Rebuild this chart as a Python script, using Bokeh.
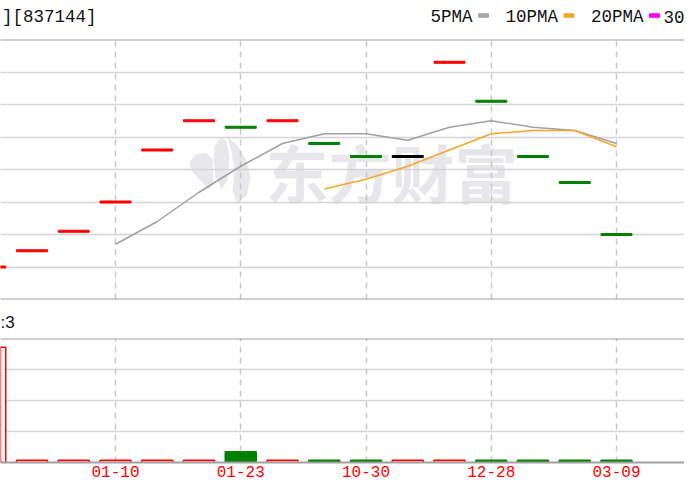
from bokeh.plotting import figure
from bokeh.models import Range1d, FixedTicker, Grid, Span, ColumnDataSource
from bokeh.layouts import column
from bokeh.embed import file_html
from bokeh.resources import INLINE
from bokeh.core.properties import value

# ---------------- data ----------------
stock_code = "837144"
header_text = "][" + stock_code + "]"
tick_idx = [0, 3, 6, 9, 12, 15]
tick_labels = ["12-13", "01-10", "01-23", "10-30", "12-28", "03-09"]
close = [3.10, 3.15, 3.21, 3.30, 3.46, 3.55, 3.53, 3.55, 3.48, 3.44, 3.44, 3.73, 3.61, 3.44, 3.36, 3.20]
prev_close = 3.07
ma5_start = 3
ma5 = [3.17, 3.24, 3.33, 3.41, 3.48, 3.51, 3.51, 3.49, 3.53, 3.55, 3.53, 3.52, 3.48]
ma10_start = 8
ma10 = [3.34, 3.37, 3.41, 3.46, 3.51, 3.52, 3.52, 3.47]
volume = [3.72, 0.07, 0.07, 0.07, 0.07, 0.07, 0.35, 0.07, 0.07, 0.07, 0.07, 0.07, 0.07, 0.07, 0.07, 0.07]
vol_up = [1, 1, 1, 1, 1, 1, 0, 1, 0, 0, 1, 1, 0, 0, 0, 0]
vol_header = ":3"
legend_names = ["5PMA", "10PMA", "20PMA"]
legend_colors = ["#a8a8a8", "#f5a623", "#ff00ff"]
legend_more = "30"
watermark = "东方财富"

# ---------------- styles / layout ----------------
W = 684
RED, GREEN, BLACK = "#ff0000", "#008000", "#000000"
BORDER = "#a0a0a0"
GRID = "#d4d4d4"
DASH = "#c8c8c8"
MONO = value("Liberation Mono")
STEP = 41.75          # pixels per candle
X0 = 10.25 / STEP     # left edge of the frame, in candle index
X1 = X0 + W / STEP
P0, P1 = 3.00, 3.80   # price range
V1 = 4.0              # volume range

xr = Range1d(X0, X1)


def base(height, xrange, yrange, mbt=0, mbb=0):
    p = figure(width=W, height=height, x_range=xrange, y_range=yrange,
               toolbar_location=None, output_backend="svg",
               x_axis_location=None, y_axis_location=None,
               min_border_left=0, min_border_right=0,
               min_border_top=mbt, min_border_bottom=mbb,
               background_fill_color="white", border_fill_color="white")
    p.outline_line_color = None
    p.xgrid.visible = False
    p.ygrid.visible = False
    return p


# ---------------- header ----------------
HA = 38
ph = base(HA, Range1d(0, W), Range1d(0, HA))
ph.text(x=[1.5], y=[HA - 16], text=[header_text], text_font=MONO, text_font_size="17.5px",
        text_color="#111111", text_baseline="middle", text_align="left")
cw = 10.5
lx = 430.0
for name, col in zip(legend_names, legend_colors):
    ph.text(x=[lx], y=[HA - 16], text=[name], text_font=MONO, text_font_size="17.5px",
            text_color="#111111", text_baseline="middle", text_align="left")
    sx = lx + len(name) * cw + 11
    ph.rect(x=[sx], y=[HA - 15], width=10, height=3.5, color=col)
    lx = sx + 22.0
ph.text(x=[W], y=[HA - 16], text=[legend_more], text_font=MONO, text_font_size="17.5px",
        text_color="#111111", text_baseline="middle", text_align="right")

# ---------------- price panel ----------------
pp = base(262, xr, Range1d(P0, P1), mbt=1, mbb=1)
pp.add_layout(Grid(dimension=1, ticker=FixedTicker(ticks=[3.1, 3.2, 3.3, 3.4, 3.5, 3.6, 3.7]),
                   grid_line_color=GRID, grid_line_width=1.5))
pp.add_layout(Grid(dimension=0, ticker=FixedTicker(ticks=tick_idx),
                   grid_line_color=DASH, grid_line_width=1.5, grid_line_dash="6 5"))


def rx(px):
    return (px + 10.25) / STEP


def ry(py):
    return P0 + (299 - py) / 325.0


# watermark logo + text
leaves = [
    [(189, 162), (195, 154), (205, 152), (212, 158), (213, 184), (208, 189), (199, 179), (191, 170)],
    [(214, 146), (220, 137), (226, 141), (229, 156), (227, 180), (221, 189), (215, 176), (213, 160)],
    [(227, 137), (237, 145), (246, 160), (250, 178), (246, 195), (237, 203), (232, 190), (234, 170), (231, 151)],
]
wm = pp.patches(xs=[[rx(a) for a, b in lf] for lf in leaves], ys=[[ry(b) for a, b in lf] for lf in leaves],
                fill_color="#e8e8ec", line_color=None)
wm.level = "image"
wt = pp.text(x=[rx(391)], y=[ry(170)], text=[watermark], text_font=value("Noto Sans CJK SC"),
             text_font_style="bold", text_font_size="63px", text_color="#e6e6eb",
             text_align="center", text_baseline="middle")
wt.level = "image"

idx = list(range(len(close)))
prev = [prev_close] + close[:-1]
ccol = [RED if c > p else (GREEN if c < p else BLACK) for c, p in zip(close, prev)]
pp.line(x=list(range(ma5_start, ma5_start + len(ma5))), y=ma5, line_color="#a0a0a0", line_width=1.5)
pp.line(x=list(range(ma10_start, ma10_start + len(ma10))), y=ma10, line_color="#f5a623", line_width=1.5)
pp.rect(x=idx, y=close, width=0.742, height=2, height_units="screen", color=ccol)
pp.add_layout(Span(location=P1, dimension="width", line_color=BORDER, line_width=2))
pp.add_layout(Span(location=P0, dimension="width", line_color=BORDER, line_width=2))

# ---------------- volume header strip ----------------
HC = 37
pc = base(HC, Range1d(0, W), Range1d(0, HC))
pc.text(x=[0], y=[HC - 22], text=[vol_header], text_font=value("Liberation Sans"),
        text_font_size="17px", text_color="#111111", text_align="left", text_baseline="middle")

# ---------------- volume panel ----------------
pv = figure(width=W, height=147, x_range=xr, y_range=Range1d(0, V1),
            toolbar_location=None, output_backend="svg",
            x_axis_location="below", y_axis_location=None,
            min_border_left=0, min_border_right=0, min_border_top=1, min_border_bottom=22,
            background_fill_color="white", border_fill_color="white")
pv.outline_line_color = None
pv.xgrid.visible = False
pv.ygrid.visible = False
pv.add_layout(Grid(dimension=1, ticker=FixedTicker(ticks=[1, 2, 3]),
                   grid_line_color=GRID, grid_line_width=1.5))
pv.add_layout(Grid(dimension=0, ticker=FixedTicker(ticks=tick_idx),
                   grid_line_color=DASH, grid_line_width=1.5, grid_line_dash="6 5"))
vsrc = ColumnDataSource(dict(
    x=idx, top=volume,
    fill=["white" if u else GREEN for u in vol_up],
    line=[RED if u else GREEN for u in vol_up]))
pv.vbar(x="x", top="top", bottom=0, width=0.742, source=vsrc,
        fill_color="fill", line_color="line", line_width=1.5)
pv.add_layout(Span(location=V1, dimension="width", line_color=BORDER, line_width=2))
ax = pv.xaxis[0]
ax.ticker = FixedTicker(ticks=tick_idx)
ax.major_label_overrides = {i: s for i, s in zip(tick_idx, tick_labels)}
ax.axis_line_color = BORDER
ax.axis_line_width = 2
ax.major_tick_line_color = None
ax.minor_tick_line_color = None
ax.major_tick_out = 0
ax.major_tick_in = 0
ax.major_label_standoff = 3
ax.major_label_text_color = RED
ax.major_label_text_font = "Liberation Mono"
ax.major_label_text_font_size = "16px"

layout = column(ph, pp, pc, pv, spacing=0)
open("out.html", "w").write(file_html(layout, INLINE))
